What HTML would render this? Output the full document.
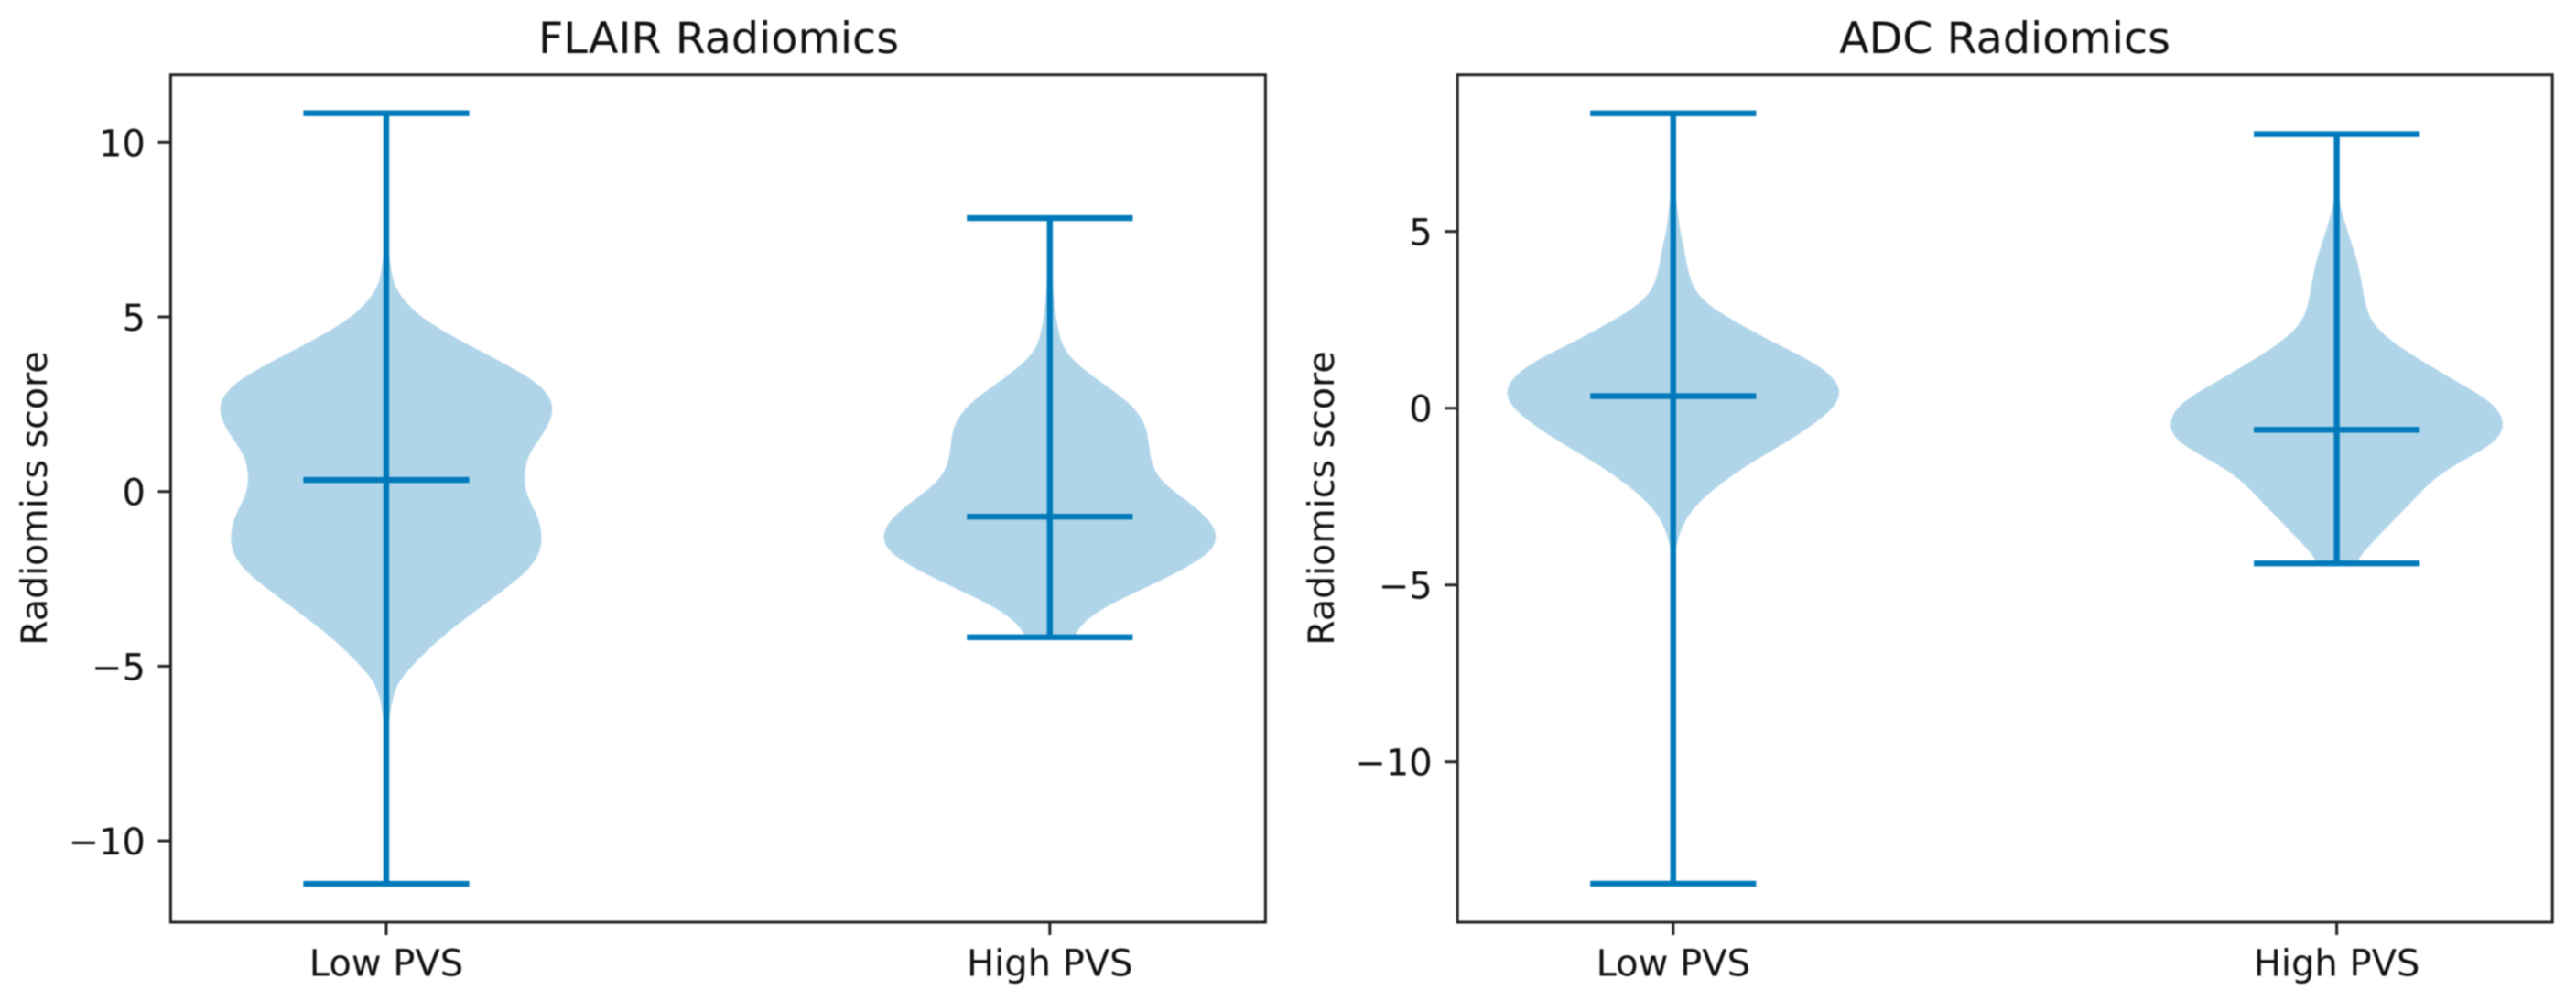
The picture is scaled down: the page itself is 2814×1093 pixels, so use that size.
<!DOCTYPE html>
<html lang="en">
<head>
<meta charset="utf-8">
<title>FLAIR and ADC Radiomics violin plots</title>
<style>
html,body{margin:0;padding:0;background:#fff;width:2814px;height:1093px;overflow:hidden}
svg{display:block;filter:blur(0.8px)}
text{font-family:"DejaVu Sans","Liberation Sans",sans-serif;fill:#111}
.tick-label{font-size:40px}
.axis-title{font-size:39.5px}
.panel-title{font-size:47.6px}
</style>
</head>
<body>
<svg id="figure" xmlns="http://www.w3.org/2000/svg" width="2814" height="1093" viewBox="0 0 2814 1093">
  <rect width="2814" height="1093" fill="#fff"/>
  <g id="flair-panel">
    <text class="panel-title" x="785" y="58" text-anchor="middle">FLAIR Radiomics</text>
    <text class="axis-title" transform="translate(51,544) rotate(-90)" text-anchor="middle">Radiomics score</text>
  </g>
  <g id="adc-panel">
    <text class="panel-title" x="2190" y="58" text-anchor="middle">ADC Radiomics</text>
    <text class="axis-title" transform="translate(1457,544) rotate(-90)" text-anchor="middle">Radiomics score</text>
  </g>
</svg>
<script>
// ---- chart data ----
const categories = ['Low PVS', 'High PVS'];
const categoryPositions = [1, 2];
const xLimits = [0.675, 2.325];

const flairYTicks = [-10, -5, 0, 5, 10];
const adcYTicks = [-10, -5, 0, 5];
const flairYLimits = [-12.33, 11.93];
const adcYLimits = [-14.54, 9.43];

// whisker and mean summary values, [Low PVS, High PVS]
const flairMax = [10.83, 7.83];
const flairMin = [-11.23, -4.17];
const flairMean = [0.33, -0.72];
const adcMax = [8.34, 7.75];
const adcMin = [-13.45, -4.39];
const adcMean = [0.34, -0.61];

// violin outlines: score and relative density
const flairLowScore = [10.83,8.03,6.98,6.37,5.93,5.49,5.06,4.70,4.35,4.01,3.65,3.30,3.04,2.69,2.34,1.99,1.55,1.20,0.86,0.33,0.155,-0.28,-0.71,-1.16,-1.50,-1.94,-2.39,-2.81,-3.26,-3.70,-4.12,-4.57,-5.02,-5.44,-5.88,-6.32,-6.85,-7.72,-11.23];
const flairLowDensity = [0,0.005,0.012,0.028,0.044,0.10,0.19,0.30,0.43,0.57,0.71,0.845,0.92,0.983,1.0,0.978,0.923,0.867,0.834,0.823,0.823,0.856,0.906,0.928,0.931,0.90,0.818,0.702,0.58,0.453,0.343,0.238,0.149,0.072,0.039,0.022,0.011,0.008,0];

const flairHighScore = [7.83,6.72,5.93,5.33,4.88,4.43,4.17,3.91,3.57,3.23,2.86,2.52,2.18,1.81,1.39,0.94,0.60,0.23,-0.11,-0.45,-0.82,-1.16,-1.34,-1.68,-1.94,-2.29,-2.65,-3.0,-3.34,-3.70,-4.04,-4.17];
const flairHighDensity = [0,0.012,0.018,0.028,0.039,0.061,0.072,0.11,0.182,0.276,0.387,0.481,0.541,0.58,0.591,0.602,0.624,0.68,0.773,0.873,0.956,1.0,1.0,0.978,0.90,0.773,0.619,0.459,0.315,0.21,0.149,0.138];

const adcLowScore = [8.34,6.36,5.51,5.06,4.62,4.21,3.77,3.43,3.07,2.73,2.40,2.03,1.70,1.36,1.0,0.66,0.45,0.14,-0.19,-0.56,-1.08,-1.59,-2.01,-2.45,-2.89,-3.30,-3.74,-4.08,-6.6,-13.45];
const adcLowDensity = [0,0.008,0.028,0.039,0.061,0.077,0.094,0.116,0.171,0.265,0.392,0.53,0.669,0.818,0.928,0.994,1.0,0.983,0.912,0.807,0.635,0.448,0.32,0.199,0.11,0.055,0.028,0.008,0.004,0];

const adcHighScore = [7.75,6.62,5.92,5.66,5.25,4.81,4.37,3.95,3.51,3.07,2.73,2.47,2.21,1.88,1.52,1.18,0.74,0.32,-0.04,-0.45,-0.82,-1.15,-1.49,-1.85,-2.19,-2.53,-2.89,-3.23,-3.56,-3.92,-4.26,-4.39];
const adcHighDensity = [0,0.006,0.015,0.022,0.05,0.077,0.11,0.133,0.149,0.166,0.182,0.204,0.249,0.331,0.442,0.564,0.718,0.878,0.967,1.0,0.978,0.884,0.746,0.619,0.536,0.47,0.398,0.326,0.26,0.188,0.122,0.11];

// ---- drawing ----
const SVG_NS = 'http://www.w3.org/2000/svg';
const LINE_COLOR = '#0079ba';
const FILL_COLOR = '#b0d5e9';
const SPINE_COLOR = '#222';
const AXIS_TOP = 81.7;
const AXIS_BOTTOM = 1007;
const SMOOTH_SIGMA = 0.2;   // outline smoothing bandwidth, score units
const OUTLINE_STEPS = 320;

function make(parent, tag, attrs) {
  const el = document.createElementNS(SVG_NS, tag);
  for (const k in attrs) el.setAttribute(k, attrs[k]);
  parent.appendChild(el);
  return el;
}

function linearScale(domain, range) {
  return v => range[0] + (v - domain[0]) * (range[1] - range[0]) / (domain[1] - domain[0]);
}

function interpolate(scores, densities, s) {
  // scores run from high to low
  if (s >= scores[0]) return densities[0];
  for (let i = 0; i < scores.length - 1; i++) {
    if (s >= scores[i + 1]) {
      const t = (scores[i] - s) / (scores[i] - scores[i + 1]);
      return densities[i] + t * (densities[i + 1] - densities[i]);
    }
  }
  return densities[densities.length - 1];
}

function smoothOutline(scores, densities) {
  // resample the read-off points and remove reading noise with a kernel smoother
  const top = scores[0];
  const bottom = scores[scores.length - 1];
  const outline = [];
  let peak = 0;
  for (let i = 0; i <= OUTLINE_STEPS; i++) {
    const s = top + (bottom - top) * i / OUTLINE_STEPS;
    let sum = 0;
    let weight = 0;
    for (let k = -3; k <= 3; k += 0.25) {
      const w = Math.exp(-k * k / 2);
      sum += w * interpolate(scores, densities, s + k * SMOOTH_SIGMA);
      weight += w;
    }
    const value = sum / weight;
    peak = Math.max(peak, value);
    outline.push([s, value]);
  }
  const rawPeak = Math.max.apply(null, densities);
  return outline.map(p => [p[0], p[1] * rawPeak / peak]);
}

function drawViolin(group, xScale, yScale, pos, scores, densities) {
  const halfPerUnit = 0.25 * (xScale(2) - xScale(1));
  const cx = xScale(pos);
  const outline = smoothOutline(scores, densities);
  const right = outline.map(p => (cx + p[1] * halfPerUnit).toFixed(2) + ' ' + yScale(p[0]).toFixed(2));
  const left = outline.map(p => (cx - p[1] * halfPerUnit).toFixed(2) + ' ' + yScale(p[0]).toFixed(2)).reverse();
  const d = 'M' + right.join('L') + 'L' + left.join('L') + 'Z';
  const body = make(group, 'path', { d: d, fill: FILL_COLOR });
  
  
}

function drawSummary(group, xScale, yScale, pos, maxV, minV, meanV) {
  const cx = xScale(pos);
  const capHalf = xScale(pos + 0.125) - cx;
  const stem = make(group, 'line', { x1: cx, x2: cx, y1: yScale(maxV), y2: yScale(minV), stroke: LINE_COLOR, 'stroke-width': 6.4 });
  
  
  const topCap = make(group, 'line', { x1: cx - capHalf, x2: cx + capHalf, y1: yScale(maxV), y2: yScale(maxV), stroke: LINE_COLOR, 'stroke-width': 6.4 });
  
  
  const bottomCap = make(group, 'line', { x1: cx - capHalf, x2: cx + capHalf, y1: yScale(minV), y2: yScale(minV), stroke: LINE_COLOR, 'stroke-width': 6.4 });
  
  
  const meanLine = make(group, 'line', { x1: cx - capHalf, x2: cx + capHalf, y1: yScale(meanV), y2: yScale(meanV), stroke: LINE_COLOR, 'stroke-width': 6.4 });
  
  
}

function drawAxes(group, left, right, xScale, yScale, yTicks) {
  const frame = make(group, 'rect', { x: left, y: AXIS_TOP, width: right - left, height: AXIS_BOTTOM - AXIS_TOP, fill: 'none', stroke: SPINE_COLOR, 'stroke-width': 3 });
  
  
  yTicks.forEach(v => {
    const y = yScale(v);
    const tick = make(group, 'line', { x1: left - 14, x2: left, y1: y, y2: y, stroke: SPINE_COLOR, 'stroke-width': 3 });
    
    
    const label = make(group, 'text', { x: left - 27.5, y: y + 15, 'text-anchor': 'end', class: 'tick-label' });
    label.textContent = String(v).replace('-', '\u2212');
    
    
  });
  categoryPositions.forEach((pos, i) => {
    const x = xScale(pos);
    const tick = make(group, 'line', { x1: x, x2: x, y1: AXIS_BOTTOM, y2: AXIS_BOTTOM + 14, stroke: SPINE_COLOR, 'stroke-width': 3 });
    
    
    const label = make(group, 'text', { x: x, y: 1065.5, 'text-anchor': 'middle', class: 'tick-label' });
    label.textContent = categories[i];
    
    
  });
}

function drawPanel(group, left, right, yLimits, yTicks, lowS, lowD, highS, highD, maxV, minV, meanV) {
  const xScale = linearScale(xLimits, [left, right]);
  const yScale = linearScale(yLimits, [AXIS_BOTTOM, AXIS_TOP]);
  drawViolin(group, xScale, yScale, categoryPositions[0], lowS, lowD);
  drawViolin(group, xScale, yScale, categoryPositions[1], highS, highD);
  categoryPositions.forEach((pos, i) => {
    drawSummary(group, xScale, yScale, pos, maxV[i], minV[i], meanV[i]);
  });
  drawAxes(group, left, right, xScale, yScale, yTicks);
}

drawPanel(document.getElementById('flair-panel'), 186.4, 1382.4, flairYLimits, flairYTicks,
  flairLowScore, flairLowDensity, flairHighScore, flairHighDensity, flairMax, flairMin, flairMean);
drawPanel(document.getElementById('adc-panel'), 1592.2, 2788.2, adcYLimits, adcYTicks,
  adcLowScore, adcLowDensity, adcHighScore, adcHighDensity, adcMax, adcMin, adcMean);
</script>
</body>
</html>
